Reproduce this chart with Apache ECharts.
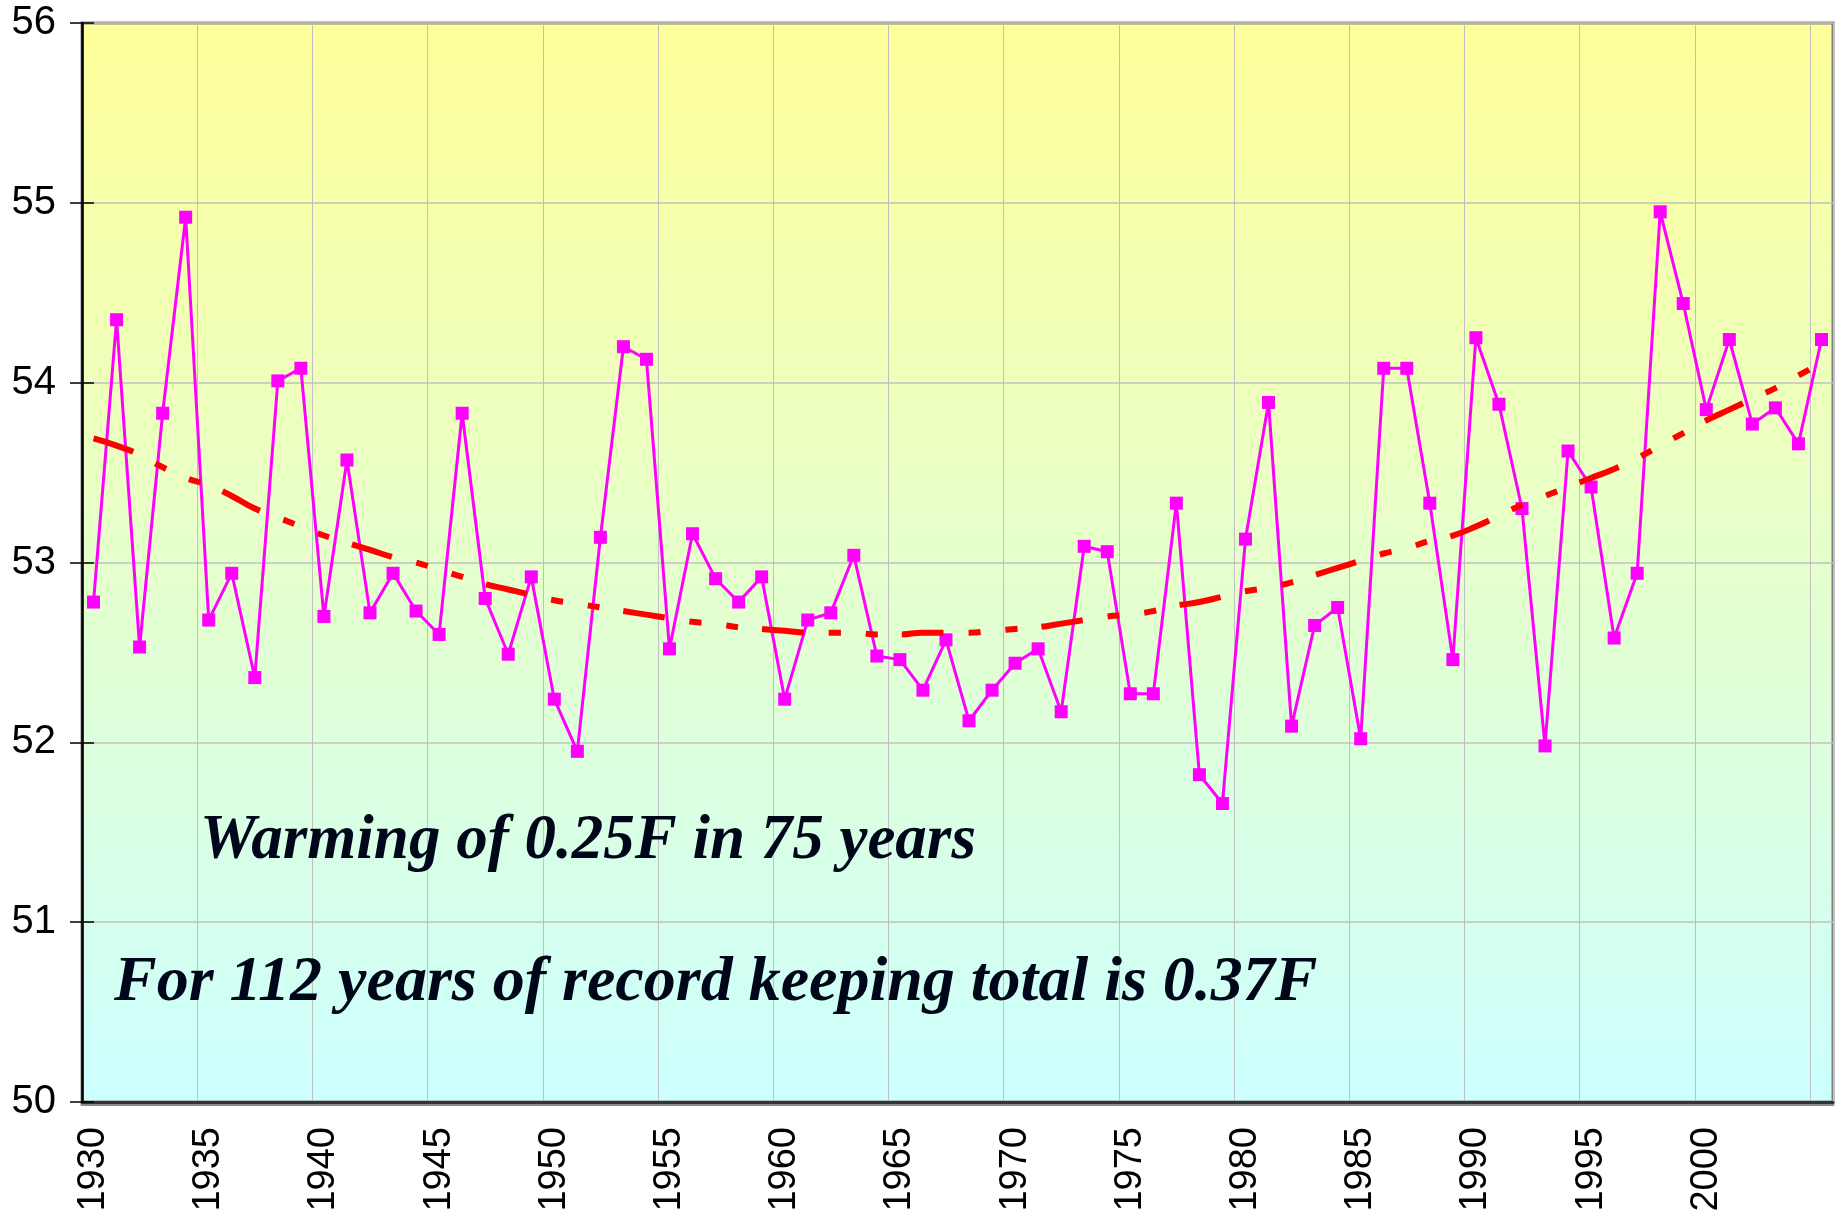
<!DOCTYPE html>
<html>
<head>
<meta charset="utf-8">
<script src="https://cdn.jsdelivr.net/npm/echarts@6/dist/echarts.min.js"></script>
<style>
html, body { margin: 0; padding: 0; background: #fff; }
#chart { width: 1843px; height: 1219px; }
</style>
</head>
<body>
<div id="chart"></div>
<script>
// years on the category axis
var years = ['1930','1931','1932','1933','1934','1935','1936','1937','1938','1939',
             '1940','1941','1942','1943','1944','1945','1946','1947','1948','1949',
             '1950','1951','1952','1953','1954','1955','1956','1957','1958','1959',
             '1960','1961','1962','1963','1964','1965','1966','1967','1968','1969',
             '1970','1971','1972','1973','1974','1975','1976','1977','1978','1979',
             '1980','1981','1982','1983','1984','1985','1986','1987','1988','1989',
             '1990','1991','1992','1993','1994','1995','1996','1997','1998','1999',
             '2000','2001','2002','2003','2004','2005'];

// annual mean temperature (F)
var temps = [52.78, 54.35, 52.53, 53.83, 54.92, 52.68, 52.94, 52.36, 54.01, 54.08,
             52.70, 53.57, 52.72, 52.94, 52.73, 52.60, 53.83, 52.80, 52.49, 52.92,
             52.24, 51.95, 53.14, 54.20, 54.13, 52.52, 53.16, 52.91, 52.78, 52.92,
             52.24, 52.68, 52.72, 53.04, 52.48, 52.46, 52.29, 52.57, 52.12, 52.29,
             52.44, 52.52, 52.17, 53.09, 53.06, 52.27, 52.27, 53.33, 51.82, 51.66,
             53.13, 53.89, 52.09, 52.65, 52.75, 52.02, 54.08, 54.08, 53.33, 52.46,
             54.25, 53.88, 53.30, 51.98, 53.62, 53.42, 52.58, 52.94, 54.95, 54.44,
             53.85, 54.24, 53.77, 53.86, 53.66, 54.24];

// trend line
var trend = [53.69, 53.65, 53.60, 53.53, 53.47, 53.43, 53.37, 53.30, 53.25, 53.20,
             53.15, 53.11, 53.07, 53.03, 53.00, 52.96, 52.92, 52.88, 52.85, 52.82,
             52.79, 52.77, 52.75, 52.73, 52.71, 52.69, 52.67, 52.66, 52.64, 52.63,
             52.62, 52.61, 52.61, 52.61, 52.60, 52.60, 52.61, 52.61, 52.61, 52.62,
             52.63, 52.64, 52.66, 52.68, 52.70, 52.71, 52.73, 52.76, 52.78, 52.81,
             52.84, 52.86, 52.89, 52.93, 52.97, 53.01, 53.05, 53.08, 53.12, 53.15,
             53.20, 53.26, 53.32, 53.37, 53.42, 53.47, 53.52, 53.58, 53.65, 53.72,
             53.79, 53.85, 53.91, 53.97, 54.04, 54.11];

var notes = ['Warming of 0.25F in 75 years',
             'For 112 years of record keeping total is 0.37F'];

var chart = echarts.init(document.getElementById('chart'));

var gridBox = { left: 82, right: 10, top: 23, bottom: 117 };

var option = {
    animation: false,
    backgroundColor: '#ffffff',
    textStyle: { fontFamily: 'Liberation Sans' },
    grid: [
        Object.assign({
            show: true,
            borderColor: '#808080',
            borderWidth: 3,
            backgroundColor: {
                type: 'linear', x: 0, y: 0, x2: 0, y2: 1,
                colorStops: [
                    { offset: 0, color: '#FFFF99' },
                    { offset: 1, color: '#CCFFFF' }
                ]
            }
        }, gridBox),
        // second grid on top, only for the inner half of the ticks
        Object.assign({ show: false }, gridBox)
    ],
    xAxis: [{
        type: 'category',
        data: years,
        boundaryGap: true,
        axisLine: { lineStyle: { color: '#333333', width: 3, shadowColor: 'rgba(0,0,0,0.45)', shadowOffsetY: 2 } },
        axisTick: { interval: 4, length: 12, lineStyle: { color: '#000', width: 1.5 } },
        axisLabel: {
            rotate: 90,
            margin: 25,
            fontSize: 38,
            color: '#000',
            interval: function (idx) { return idx % 5 === 0 && idx < 75; }
        },
        splitLine: { show: true, interval: 4, lineStyle: { color: '#C0C0C0', width: 1 } }
    }, {
        type: 'category',
        gridIndex: 1,
        data: years,
        boundaryGap: true,
        axisLine: { show: false },
        axisTick: { inside: true, interval: 4, length: 12, lineStyle: { color: '#000', width: 1.5 } },
        axisLabel: { show: false },
        splitLine: { show: false }
    }],
    yAxis: [{
        type: 'value',
        min: 50,
        max: 56,
        interval: 1,
        axisLine: { show: true, lineStyle: { color: '#000', width: 2.5 } },
        axisTick: { show: true, length: 12, lineStyle: { color: '#000', width: 1.5 } },
        axisLabel: { fontSize: 40, color: '#000', margin: 26 },
        splitLine: { show: true, lineStyle: { color: '#C0C0C0', width: 1.5 } }
    }, {
        type: 'value',
        gridIndex: 1,
        min: 50,
        max: 56,
        interval: 1,
        axisLine: { show: false },
        axisTick: { show: true, inside: true, length: 12, lineStyle: { color: '#000', width: 1.5 } },
        axisLabel: { show: false },
        splitLine: { show: false }
    }],
    series: [{
        name: 'Temperature',
        type: 'line',
        data: temps,
        symbol: 'rect',
        symbolSize: 13,
        itemStyle: { color: '#FF00FF' },
        lineStyle: { color: '#FF00FF', width: 3 },
        z: 3
    }, {
        name: 'Trend',
        type: 'line',
        data: trend,
        showSymbol: false,
        symbol: 'none',
        smooth: true,
        lineStyle: { color: '#FF0000', width: 6, type: [42, 25, 12, 25, 12, 24], cap: 'butt' },
        z: 4
    }],
    graphic: [{
        type: 'text',
        left: 200,
        top: 810,
        z: 100,
        style: {
            text: notes[0],
            font: 'italic bold 63px "Liberation Serif"',
            fill: '#00061a'
        }
    }, {
        type: 'text',
        left: 114,
        top: 951,
        z: 100,
        style: {
            text: notes[1],
            font: 'italic bold 64px "Liberation Serif"',
            fill: '#00061a'
        }
    }]
};

chart.setOption(option);
</script>
</body>
</html>
